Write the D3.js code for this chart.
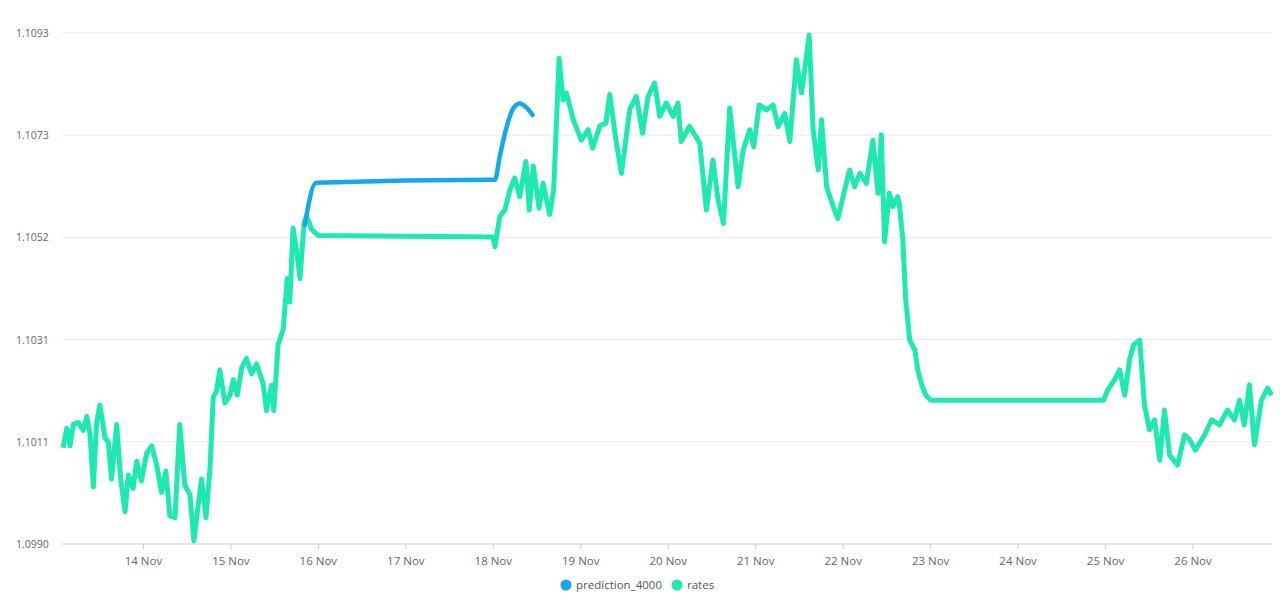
<!DOCTYPE html>
<html><head><meta charset="utf-8">
<script src="https://cdn.jsdelivr.net/npm/d3@7"></script>
<style>body{margin:0;background:#fff;font-family:"Open Sans",sans-serif}</style>
</head><body><svg id="c" width="1280" height="614"></svg>
<script>
// hours since 2019-11-13 00:00
const rateHours=[2.1,3.1,4.0,4.9,6.3,7.6,8.6,9.5,10.4,11.3,12.2,13.6,14.5,15.4,16.8,17.9,19.1,20.0,21.3,22.3,23.6,25.0,26.4,27.8,29.1,30.3,31.4,32.8,34.1,35.5,36.9,38.0,39.2,40.1,41.3,42.4,43.3,44.2,45.1,46.5,47.9,48.8,49.9,51.1,52.4,53.8,55.2,57.0,57.9,59.3,59.9,61.1,62.5,63.6,64.3,65.2,66.2,67.1,68.2,68.9,70.3,72.1,120.0,120.6,121.9,123.3,124.7,126.0,127.4,129.1,130.0,131.1,132.7,133.8,135.6,136.7,138.2,139.3,140.2,142.1,144.3,146.2,147.4,149.4,151.0,152.1,153.8,155.3,157.6,159.4,161.1,162.6,164.4,165.8,167.6,169.5,170.8,171.7,174.0,176.8,178.6,180.4,181.8,183.3,185.0,187.3,188.7,190.5,191.6,193.1,195.1,196.9,198.3,200.1,201.5,203.3,204.7,205.6,206.8,207.9,209.3,210.2,211.6,213.4,214.7,216.1,217.9,219.3,220.7,222.5,224.3,225.7,226.6,227.5,228.8,229.8,231.1,231.6,232.5,233.3,234.4,235.8,236.6,237.7,238.8,240.1,287.6,288.7,290.6,292.0,293.4,294.7,295.8,297.5,298.8,300.2,301.6,303.0,304.3,305.7,307.9,309.8,311.2,312.8,315.3,317.2,319.4,321.6,323.5,324.9,326.2,327.6,329.0,330.9,332.6,333.7];
const rateValues=[1.10094,1.10133,1.10098,1.10141,1.10145,1.10129,1.10157,1.10121,1.10015,1.10145,1.10180,1.10114,1.10106,1.10031,1.10141,1.10031,1.09965,1.10039,1.10012,1.10067,1.10027,1.10082,1.10098,1.10059,1.10004,1.10047,1.09957,1.09953,1.10141,1.10019,1.10000,1.09906,1.09980,1.10031,1.09953,1.10051,1.10196,1.10208,1.10251,1.10184,1.10200,1.10231,1.10200,1.10255,1.10274,1.10243,1.10263,1.10223,1.10169,1.10220,1.10169,1.10302,1.10333,1.10435,1.10388,1.10537,1.10490,1.10435,1.10545,1.10561,1.10534,1.10522,1.10519,1.10499,1.10560,1.10573,1.10614,1.10638,1.10600,1.10671,1.10573,1.10662,1.10577,1.10627,1.10564,1.10614,1.10879,1.10795,1.10809,1.10755,1.10714,1.10735,1.10698,1.10743,1.10748,1.10806,1.10714,1.10647,1.10777,1.10802,1.10728,1.10802,1.10829,1.10762,1.10789,1.10762,1.10789,1.10711,1.10742,1.10708,1.10573,1.10674,1.10594,1.10546,1.10779,1.10620,1.10694,1.10735,1.10701,1.10785,1.10775,1.10785,1.10741,1.10768,1.10711,1.10876,1.10809,1.10856,1.10926,1.10735,1.10654,1.10755,1.10620,1.10580,1.10556,1.10600,1.10654,1.10620,1.10647,1.10627,1.10714,1.10607,1.10725,1.10509,1.10607,1.10580,1.10600,1.10583,1.10513,1.10392,1.10311,1.10291,1.10251,1.10221,1.10200,1.10190,1.10190,1.10210,1.10231,1.10251,1.10200,1.10271,1.10301,1.10311,1.10180,1.10130,1.10150,1.10069,1.10170,1.10079,1.10059,1.10120,1.10110,1.10089,1.10120,1.10150,1.10140,1.10170,1.10150,1.10190,1.10140,1.10221,1.10100,1.10190,1.10214,1.10200];
const predHours=[68.4,71.5,120.0,120.6,121.9,123.8,125.6,127.4,129.2,130.9];
const predValues=[1.10543,1.10628,1.10634,1.10634,1.10681,1.10741,1.10778,1.10788,1.10780,1.10765];
const yTicks=[1.0990,1.1011,1.1031,1.1052,1.1073,1.1093];
const seriesNames=["prediction_4000","rates"];
const seriesColors=["#14a9eb","#1de9b0"];

const svg=d3.select("#c");
const t0=new Date(2019,10,13,0,0);
const toDate=h=>new Date(t0.getTime()+h*3600e3);
const x=d3.scaleTime().domain([toDate(1.8),toDate(333.8)]).range([62,1272]);
const y=d3.scaleLinear().domain([1.0990,1.1093]).range([544,33]);
const yPos=i=>y(1.0990+i*(1.1093-1.0990)/5);

const g=svg.append("g");
yTicks.forEach((t,i)=>{
  g.append("line").attr("x1",62).attr("x2",1272).attr("y1",yPos(i)).attr("y2",yPos(i))
   .attr("stroke",i===0?"#ccc":"#eaeaea").attr("stroke-width",1);
  g.append("text").attr("x",16).attr("y",yPos(i)+4).text(t.toFixed(4))
   .attr("font-size",10.5).attr("fill","#666");
});
const xa=svg.append("g").attr("transform","translate(0,544)")
  .call(d3.axisBottom(x).ticks(d3.timeDay.every(1)).tickFormat(d3.timeFormat("%-d Nov")).tickSize(5).tickPadding(8));
xa.select(".domain").remove();
xa.selectAll("line").attr("stroke","#ccc");
xa.selectAll("text").attr("font-size",11.5).attr("fill","#666").attr("font-family","Open Sans");

const line=d3.line().x(d=>x(toDate(d[0]))).y(d=>y(d[1]));
svg.append("path").datum(rateHours.map((h,i)=>[h,rateValues[i]]))
  .attr("d",line).attr("fill","none").attr("stroke",seriesColors[1]).attr("stroke-width",5).attr("stroke-linejoin","round");
svg.append("path").datum(predHours.map((h,i)=>[h,predValues[i]]))
  .attr("d",line.curve(d3.curveMonotoneX)).attr("fill","none").attr("stroke",seriesColors[0]).attr("stroke-width",4.5).attr("stroke-linecap","round");

const lg=svg.append("g");
const lx=[561,672];
seriesNames.forEach((n,i)=>{
  lg.append("circle").attr("cx",lx[i]+5).attr("cy",585).attr("r",5.5).attr("fill",seriesColors[i]);
  lg.append("text").attr("x",lx[i]+15).attr("y",589).text(n).attr("font-size",11.5).attr("fill","#555");
});
</script></body></html>
